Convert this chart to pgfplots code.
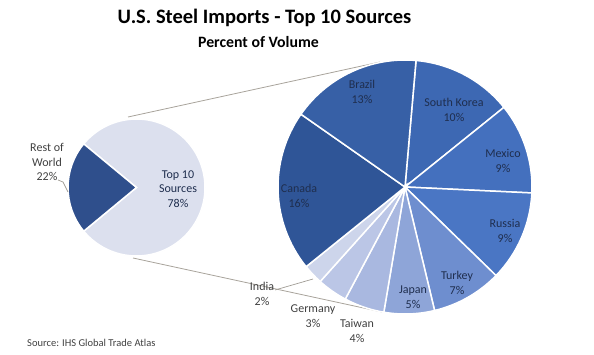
\documentclass[border=0pt]{standalone}
\usepackage{pgfplots}
\pgfplotsset{compat=1.18}
\usepackage{fontspec}
\setmainfont{Carlito}
\definecolor{cCA}{HTML}{2F5597}
\definecolor{cBR}{HTML}{3760A6}
\definecolor{cSK}{HTML}{3D68B3}
\definecolor{cMX}{HTML}{4470BE}
\definecolor{cRU}{HTML}{4A76C4}
\definecolor{cTR}{HTML}{6E8ECF}
\definecolor{cJP}{HTML}{8EA5D8}
\definecolor{cTW}{HTML}{A9B8E0}
\definecolor{cDE}{HTML}{BBC6E6}
\definecolor{cIN}{HTML}{CDD5EB}
\definecolor{cROW}{HTML}{2F4F8C}
\definecolor{cTOP}{HTML}{DCE0EE}
\definecolor{inlab}{HTML}{1F2E4E}
\definecolor{outlab}{HTML}{404040}
\definecolor{conn}{HTML}{A8A39B}
\begin{document}
\begin{tikzpicture}
\begin{axis}[width=594pt,height=354pt,scale only axis,
  xmin=0,xmax=594,ymin=0,ymax=354,hide axis,clip=false]
\coordinate (SW) at (axis cs:0,0);
\coordinate (NE) at (axis cs:594,354);
% connector lines
\draw[conn,line width=0.8pt] (axis cs:128,237) -- (axis cs:380,292);
\draw[conn,line width=0.8pt] (axis cs:133,96) -- (axis cs:382,42);
% primary pie: Rest of World 22, Top 10 Sources 78
\xdef\curang{140.4}
\foreach \v/\c in {78/cTOP,22/cROW}{
  \pgfmathsetmacro\endang{\curang-\v/100*360}
  \edef\cmd{\noexpand\fill[\c,draw=white,line width=1.5pt] (axis cs:136.5,166.5) -- ++(\curang:68.5pt) arc[start angle=\curang,end angle=\endang,radius=68.5pt] -- cycle;}
  \cmd
  \xdef\curang{\endang}
}
% secondary pie (share of the 78%)
\xdef\curang{85}
\foreach \v/\c in {10/cSK,9/cMX,9/cRU,7/cTR,5/cJP,4/cTW,3/cDE,2/cIN,16/cCA,13/cBR}{
  \pgfmathsetmacro\endang{\curang-\v/78*360}
  \edef\cmd{\noexpand\fill[\c,draw=white,line width=1.5pt] (axis cs:405,167) -- ++(\curang:127pt) arc[start angle=\curang,end angle=\endang,radius=127pt] -- cycle;}
  \cmd
  \xdef\curang{\endang}
}
% leader lines
\draw[conn!80!gray,line width=0.7pt] (axis cs:58,174) -- (axis cs:63,172) -- (axis cs:68,162);
\draw[conn!80!gray,line width=0.7pt] (axis cs:275,64) -- (axis cs:313,75);
% titles
\node[font=\fontsize{20.5}{24}\selectfont\bfseries] at (axis cs:264.5,336) {U.S. Steel Imports - Top 10 Sources};
\node[font=\fontsize{15.8}{19}\selectfont\bfseries] at (axis cs:258.5,312) {Percent of Volume};
% labels
\tikzset{lab/.style={align=center,font=\fontsize{12}{14.5}\selectfont,inner sep=0pt}}
\node[lab,outlab] at (axis cs:47,192) {Rest of\\World\\22\%};
\node[lab,inlab] at (axis cs:178,165) {Top 10\\Sources\\78\%};
\node[lab,inlab] at (axis cs:362,262) {Brazil\\13\%};
\node[lab,inlab] at (axis cs:454,244) {South Korea\\10\%};
\node[lab,inlab] at (axis cs:503,193) {Mexico\\9\%};
\node[lab,inlab] at (axis cs:299,158) {Canada\\16\%};
\node[lab,inlab] at (axis cs:505,123) {Russia\\9\%};
\node[lab,inlab] at (axis cs:457,71) {Turkey\\7\%};
\node[lab,inlab] at (axis cs:413,57) {Japan\\5\%};
\node[lab,outlab] at (axis cs:357,23) {Taiwan\\4\%};
\node[lab,outlab] at (axis cs:313,38) {Germany\\3\%};
\node[lab,outlab] at (axis cs:262,60) {India\\2\%};
\node[anchor=west,font=\fontsize{10.5}{12}\selectfont,outlab,inner sep=0pt] at (axis cs:27,11) {Source: IHS Global Trade Atlas};
\end{axis}
\pgfresetboundingbox
\useasboundingbox (SW) rectangle (NE);
\end{tikzpicture}
\end{document}
